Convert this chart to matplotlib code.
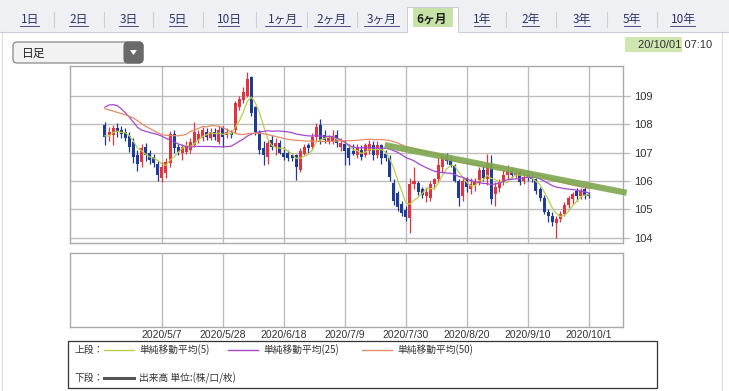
import numpy as np
import pandas as pd
import matplotlib
matplotlib.use('Agg')
import matplotlib.pyplot as plt
from matplotlib.patches import Rectangle, FancyBboxPatch, Polygon

plt.rcParams['font.family'] = ['Noto Sans CJK JP', 'DejaVu Sans']

W, H = 729, 391

# daily candles, 2020/4/17 - 2020/10/1 (business days)
dates = pd.bdate_range('2020-04-17', '2020-10-01')

opens = [107.97, 107.60, 107.62, 107.85, 107.79, 107.73, 107.58, 107.38, 106.90, 106.68,
         107.20, 106.97, 106.85, 106.60, 106.09, 106.27, 106.62, 107.67, 107.20, 107.00,
         107.03, 107.10, 107.26, 107.44, 107.50, 107.73, 107.50, 107.73, 107.38, 107.85,
         107.60, 107.70, 107.80, 108.60, 108.85, 109.00, 109.66, 108.60, 107.73, 107.15,
         106.85, 107.44, 107.20, 107.35, 107.00, 106.98, 106.90, 106.90, 106.40, 106.95,
         107.25, 107.20, 107.55, 107.97, 107.60, 107.40, 107.40, 107.60, 107.20, 107.30,
         107.15, 107.05, 106.90, 107.10, 106.90, 107.05, 107.25, 106.90, 107.25, 106.95,
         106.82, 105.94, 105.56, 105.20, 104.97, 104.70, 105.90, 105.94, 105.70, 105.45,
         105.40, 105.90, 106.05, 106.50, 106.88, 106.75, 106.55, 106.00, 105.45, 106.05,
         105.70, 105.85, 105.95, 106.38, 106.05, 106.55, 105.55, 105.75, 105.95, 106.20,
         106.35, 106.20, 106.30, 106.00, 106.20, 106.15, 106.05, 105.70, 105.40, 104.90,
         104.75, 104.50, 104.65, 104.85, 105.15, 105.35, 105.65, 105.45, 105.70, 105.55]
highs = [108.08, 107.90, 107.97, 108.03, 107.92, 107.85, 107.73, 107.50, 107.10, 107.30,
         107.35, 107.10, 106.95, 106.70, 106.68, 106.80, 107.75, 107.80, 107.30, 107.30,
         107.40, 107.50, 108.08, 107.80, 107.90, 107.85, 107.85, 107.85, 107.95, 107.95,
         107.85, 107.80, 108.80, 109.00, 109.30, 109.85, 109.70, 108.65, 107.80, 107.40,
         107.45, 107.60, 107.50, 107.45, 107.20, 107.10, 107.00, 106.95, 107.15, 107.30,
         107.35, 107.70, 108.05, 108.17, 107.80, 107.60, 107.80, 107.80, 107.50, 107.45,
         107.30, 107.30, 107.30, 107.25, 107.35, 107.45, 107.40, 107.40, 107.30, 107.10,
         106.90, 106.05, 105.65, 105.30, 105.10, 106.10, 106.50, 106.00, 105.80, 105.80,
         106.00, 106.10, 106.80, 106.95, 107.00, 106.90, 106.60, 106.05, 106.10, 106.15,
         106.10, 106.10, 106.50, 106.55, 106.95, 106.90, 105.95, 106.05, 106.40, 106.55,
         106.50, 106.40, 106.40, 106.30, 106.35, 106.30, 106.10, 105.80, 105.50, 105.00,
         104.90, 104.75, 104.95, 105.25, 105.45, 105.60, 105.75, 105.75, 105.80, 105.60]
lows = [107.26, 107.40, 107.26, 107.56, 107.50, 107.40, 107.03, 106.62, 106.35, 106.50,
        106.70, 106.60, 106.50, 105.98, 105.97, 106.10, 106.50, 107.00, 106.90, 106.75,
        106.95, 107.00, 107.20, 107.35, 107.40, 107.45, 107.45, 107.45, 107.30, 107.20,
        107.50, 107.50, 107.70, 108.50, 108.75, 108.95, 108.30, 107.60, 106.95, 106.55,
        106.60, 107.10, 106.90, 106.95, 106.75, 106.70, 106.70, 106.03, 106.30, 106.90,
        107.00, 107.10, 107.45, 107.30, 107.35, 107.30, 107.30, 107.20, 107.05, 106.55,
        106.55, 106.90, 106.80, 106.75, 106.85, 106.95, 106.75, 106.80, 106.60, 106.70,
        106.00, 105.15, 104.95, 104.75, 104.60, 104.15, 105.70, 105.50, 105.40, 105.25,
        105.30, 105.70, 105.95, 106.30, 106.60, 106.50, 105.95, 105.10, 105.30, 105.60,
        105.55, 105.65, 105.85, 106.00, 105.85, 105.20, 105.10, 105.60, 105.85, 106.05,
        106.10, 106.10, 105.85, 105.90, 106.00, 105.95, 105.55, 105.30, 104.85, 104.55,
        104.40, 104.00, 104.55, 104.75, 105.05, 105.20, 105.30, 105.35, 105.35, 105.40]
closes = [107.56, 107.73, 107.85, 107.73, 107.67, 107.50, 107.20, 106.85, 106.60, 107.15,
          106.90, 106.73, 106.62, 106.20, 106.50, 106.68, 107.67, 107.15, 107.03, 107.20,
          107.23, 107.38, 107.73, 107.67, 107.80, 107.56, 107.73, 107.56, 107.79, 107.56,
          107.73, 107.60, 108.73, 108.90, 109.14, 109.60, 108.40, 107.73, 107.10, 106.90,
          107.32, 107.20, 107.35, 107.00, 106.85, 106.80, 106.80, 106.50, 107.05, 107.20,
          107.15, 107.55, 107.90, 107.44, 107.44, 107.50, 107.55, 107.35, 107.35, 107.05,
          106.80, 106.95, 107.20, 106.85, 107.25, 107.30, 106.90, 107.25, 106.80, 106.82,
          106.12, 105.30, 105.09, 104.86, 104.74, 105.90, 106.00, 105.60, 105.50, 105.62,
          105.90, 106.05, 106.55, 106.88, 106.70, 106.55, 106.00, 105.40, 106.00, 105.80,
          105.90, 106.00, 106.38, 106.10, 106.60, 105.35, 105.80, 105.95, 106.20, 106.40,
          106.20, 106.28, 105.95, 106.15, 106.10, 106.05, 105.65, 105.40, 104.90, 104.75,
          104.55, 104.65, 104.85, 105.15, 105.40, 105.55, 105.45, 105.65, 105.45, 105.45]

# closes before 4/17, only used to warm up the moving averages
prior_close = [109.75, 109.80, 110.05, 109.80, 109.75, 109.85, 109.90, 111.40, 112.10, 111.60,
               110.70, 110.20, 110.40, 109.50, 107.90, 108.30, 107.10, 107.50, 106.10, 105.40,
               102.40, 105.50, 104.60, 104.60, 108.00, 105.80, 107.60, 108.40, 110.70, 110.80,
               111.20, 111.20, 111.20, 109.60, 107.90, 107.80, 107.50, 107.20, 107.90, 108.50,
               109.20, 108.80, 108.80, 108.50, 108.40, 107.80, 107.20, 107.50, 107.90]

ma_periods = [5, 25, 50]
ma_colors = ['#b9cf4a', '#a347d1', '#e58a66']
ma_labels = ['単純移動平均(5)', '単純移動平均(25)', '単純移動平均(50)']

tick_dates = ['2020-05-07', '2020-05-28', '2020-06-18', '2020-07-09',
              '2020-07-30', '2020-08-20', '2020-09-10', '2020-10-01']
tick_labels = ['2020/5/7', '2020/5/28', '2020/6/18', '2020/7/9',
               '2020/7/30', '2020/8/20', '2020/9/10', '2020/10/1']
y_ticks = [104, 105, 106, 107, 108, 109]

# hand drawn trend line (candle index, price)
trend_idx = [68.8, 128.3]
trend_val = [107.26, 105.58]

tab_labels = ['1日', '2日', '3日', '5日', '10日', '1ヶ月', '2ヶ月', '3ヶ月',
              '6ヶ月', '1年', '2年', '3年', '5年', '10年']
tab_selected = '6ヶ月'
tab_x = [30, 79, 129, 178, 229, 283, 332, 382, 432, 482, 531, 582, 632, 683]
tab_w = [19, 19, 19, 18, 21, 36, 36, 35, 35, 16, 17, 16, 16, 25]


# ---------- page chrome ----------
fig = plt.figure(figsize=(W / 100, H / 100), dpi=100)
bg = fig.add_axes([0, 0, 1, 1])
bg.set_xlim(0, W)
bg.set_ylim(H, 0)
bg.axis('off')

line_c = '#c9cdd6'
bg.add_patch(Rectangle((0, 0), W, 32, facecolor='#eef0f4', edgecolor='none'))
bg.plot([2, 2], [32, H], color='#dcdcdc', lw=0.8)
bg.plot([722, 722], [32, H], color='#dcdcdc', lw=0.8)

for lab, x, w in zip(tab_labels, tab_x, tab_w):
    if lab == tab_selected:
        x0, x1 = x - 25, x + 26
        bg.add_patch(Rectangle((x0, 7), x1 - x0, 26, facecolor='white', edgecolor='none'))
        bg.plot([x0, x0, x1, x1], [32, 7, 7, 32], color=line_c, lw=0.8)
        bg.plot([0, x0], [32, 32], color=line_c, lw=0.8)
        bg.plot([x1, W], [32, 32], color=line_c, lw=0.8)
        bg.add_patch(Rectangle((x - 19, 8), 40, 19, facecolor='#b5d98a',
                               alpha=0.75, edgecolor='none'))
        bg.text(x, 19, lab, ha='center', va='center', fontsize=8.5,
                fontweight='bold', color='#222222')
    else:
        bg.text(x, 19, lab, ha='center', va='center', fontsize=8.5, color='#2b3566')
        bg.plot([x - w / 2, x + w / 2], [25.5, 25.5], color='#2b3566', lw=0.6)

for i in range(len(tab_x) - 1):
    if tab_selected in (tab_labels[i], tab_labels[i + 1]):
        continue
    xs = (tab_x[i] + tab_x[i + 1]) / 2
    bg.plot([xs, xs], [12, 27], color=line_c, lw=0.8)

# dropdown
bg.add_patch(FancyBboxPatch((13, 42), 130, 21, boxstyle='round,pad=0,rounding_size=4',
                            facecolor='#f2f2f2', edgecolor='#7a7a7a', lw=0.8))
bg.add_patch(FancyBboxPatch((124, 42), 19, 21, boxstyle='round,pad=0,rounding_size=4',
                            facecolor='#6a6a6a', edgecolor='#6a6a6a', lw=0.8))
bg.add_patch(Polygon([[130, 50], [137, 50], [133.5, 55]], closed=True,
                     facecolor='white', edgecolor='none'))
bg.text(22, 53, '日足', ha='left', va='center', fontsize=8.5, color='#222222')

# update time
bg.add_patch(Rectangle((625, 37), 57, 15, facecolor='#c3e09c', alpha=0.8, edgecolor='none'))
bg.text(712, 45, '20/10/01 07:10', ha='right', va='center', fontsize=8,
        family=['Liberation Sans', 'DejaVu Sans'], color='#333333')

# ---------- charts ----------
x = np.arange(len(dates))
tick_pos = [dates.get_loc(pd.Timestamp(d)) for d in tick_dates]
xlim = (-8.6, 127.4)

ax = fig.add_axes([70 / W, 1 - 243 / H, 553 / W, 177 / H])
ax2 = fig.add_axes([70 / W, 1 - 327 / H, 553 / W, 74 / H])

grid_c = '#bdbdbd'
for a in (ax, ax2):
    a.set_xlim(*xlim)
    a.set_xticks(tick_pos)
    a.tick_params(axis='x', length=0, labelbottom=False)
    for s in a.spines.values():
        s.set_color('#aaaaaa')
        s.set_linewidth(1.0)
    a.grid(axis='x', color=grid_c, lw=1.0)
    a.set_axisbelow(True)

ax.set_ylim(103.81, 110.05)
ax.yaxis.tick_right()
ax.set_yticks(y_ticks)
ax.set_yticklabels([str(v) for v in y_ticks], fontsize=8, color='#333333',
                   family=['Liberation Sans', 'DejaVu Sans'])
ax.tick_params(axis='y', length=5, color=grid_c, width=1.0, pad=3)
ax.grid(axis='y', color=grid_c, lw=1.0)

ax2.set_yticks([])
ax2.set_xticklabels(tick_labels)
ax2.tick_params(axis='x', labelbottom=True, labelsize=7.5, pad=2, colors='#333333')
for t in ax2.get_xticklabels():
    t.set_family(['Liberation Sans', 'DejaVu Sans'])

o = np.array(opens)
c = np.array(closes)
up = c >= o
cols = np.where(up, '#e3333c', '#1e3b98')
ax.vlines(x, lows, highs, colors=cols, lw=0.9, zorder=3)
body = np.maximum(np.abs(c - o), 0.03)
ax.bar(x, body, bottom=np.minimum(o, c), width=0.74, color=cols, zorder=4)

all_close = pd.Series(prior_close + closes)
for n, col in zip(ma_periods, ma_colors):
    ma = all_close.rolling(n).mean().iloc[len(prior_close):].to_numpy()
    ax.plot(x, ma, color=col, lw=0.9, zorder=5)

ax.plot(trend_idx, trend_val, color='#7fa650', lw=4.5, alpha=0.9,
        solid_capstyle='butt', clip_on=False, zorder=6)

# ---------- legend box ----------
bg.add_patch(Rectangle((68, 341), 589, 47, facecolor='white', edgecolor='#333333', lw=0.9))
bg.text(75, 350, '上段：', ha='left', va='center', fontsize=7, color='#333333')
leg_x = [104, 228, 362]
for lx, col, lab in zip(leg_x, ma_colors, ma_labels):
    bg.plot([lx, lx + 30], [350, 350], color=col, lw=1.0)
    bg.text(lx + 35, 350, lab, ha='left', va='center', fontsize=7, color='#333333')
bg.text(75, 378, '下段：', ha='left', va='center', fontsize=7, color='#333333')
bg.plot([104, 134], [378, 378], color='#555555', lw=2.2)
bg.text(139, 378, '出来高 単位:(株/口/枚)', ha='left', va='center', fontsize=7, color='#333333')

fig.savefig('out.png', dpi=100)
